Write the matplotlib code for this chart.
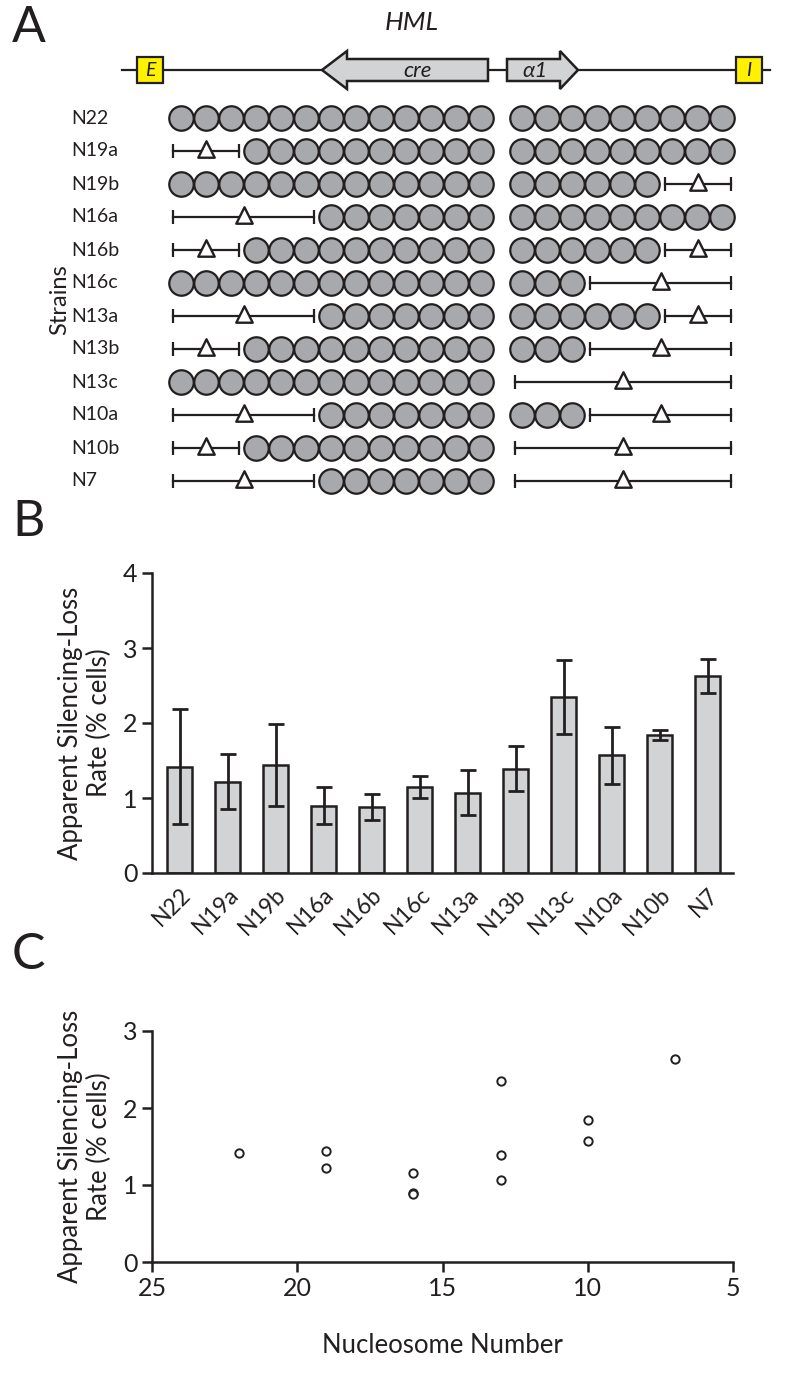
import numpy as np
import matplotlib
matplotlib.use("Agg")
import matplotlib.pyplot as plt
from matplotlib.patches import Polygon, Rectangle

plt.rcParams['font.family'] = ['Lato', 'DejaVu Sans']

# strains and their deletions (nucleosomes removed at the left end / right end)
strains = ["N22", "N19a", "N19b", "N16a", "N16b", "N16c",
           "N13a", "N13b", "N13c", "N10a", "N10b", "N7"]
del_left = [0, 3, 0, 6, 3, 0, 6, 3, 0, 6, 3, 6]
del_right = [0, 0, 3, 0, 3, 6, 3, 6, 9, 6, 9, 9]
n_left_group = 13
n_right_group = 9

# silencing-loss rates (% cells) and error bars
rate = [1.42, 1.22, 1.44, 0.90, 0.88, 1.15, 1.07, 1.39, 2.35, 1.57, 1.84, 2.63]
rate_err = [0.77, 0.37, 0.55, 0.25, 0.17, 0.15, 0.30, 0.30, 0.49, 0.38, 0.07, 0.23]
nuc_number = [22, 19, 19, 16, 16, 16, 13, 13, 13, 10, 10, 7]

DARK = "#231f20"
NUC = "#a7a9ac"
GENE = "#d1d3d4"
YEL = "#fff200"

W, H = 791, 1373
fig = plt.figure(figsize=(W / 100, H / 100), dpi=100)


def box(l, t, r, b):
    return [l / W, 1 - b / H, (r - l) / W, (b - t) / H]


# ---------------- panel A ----------------
ax = fig.add_axes([0, 1 - 500 / H, 1, 500 / H])
ax.set_xlim((0 - 181) / 25, (W - 181) / 25)
ax.set_ylim((500 - 118) / 33, (0 - 118) / 33)
ax.axis("off")

right0 = 13.64  # centre of first slot of the right group
track_y = (70 - 118) / 33
ax.plot([-2.36, 23.56], [track_y, track_y], color=DARK, lw=1.6, zorder=1)
hh = 13 / 33
for xc, lab in [(-1.24, "E"), (22.72, "I")]:
    ax.add_patch(Rectangle((xc - 0.52, track_y - hh), 1.04, 2 * hh,
                           facecolor=YEL, edgecolor=DARK, lw=1.6, zorder=2))
    ax.text(xc, track_y + 0.02, lab, ha="center", va="center", style="italic",
            fontsize=14, color=DARK, zorder=3)

bh, ah = 11 / 33, 19 / 33
# cre arrow (pointing left)
x_tip, x_base, x_end = (322 - 181) / 25, (347 - 181) / 25, (488 - 181) / 25
ax.add_patch(Polygon([(x_tip, track_y), (x_base, track_y - ah), (x_base, track_y - bh),
                      (x_end, track_y - bh), (x_end, track_y + bh), (x_base, track_y + bh),
                      (x_base, track_y + ah)], closed=True, facecolor=GENE,
                     edgecolor=DARK, lw=1.8, zorder=2))
ax.text((x_base + x_end) / 2, track_y + 0.02, "cre", ha="center", va="center",
        style="italic", fontsize=16, color=DARK, zorder=3)
# alpha1 arrow (pointing right)
x_start, x_base, x_tip = (507 - 181) / 25, (560 - 181) / 25, (578 - 181) / 25
ax.add_patch(Polygon([(x_start, track_y - bh), (x_base, track_y - bh), (x_base, track_y - ah),
                      (x_tip, track_y), (x_base, track_y + ah), (x_base, track_y + bh),
                      (x_start, track_y + bh)], closed=True, facecolor=GENE,
                     edgecolor=DARK, lw=1.8, zorder=2))
ax.text((x_start + x_base) / 2 + 0.05, track_y + 0.02, "α1", ha="center", va="center",
        style="italic", fontsize=16, color=DARK, zorder=3)
ax.text(9.24, (22 - 118) / 33, "HML", ha="center", va="center", style="italic",
        fontsize=19, color=DARK)

left_slots = np.arange(n_left_group)
right_slots = right0 + np.arange(n_right_group)
for k, name in enumerate(strains):
    ax.text(-4.4, k, name, ha="left", va="center", fontsize=14, color=DARK)
    nl, nr = del_left[k], del_right[k]
    xs = np.concatenate([left_slots[nl:], right_slots[:n_right_group - nr]])
    ax.scatter(xs, np.full(len(xs), k), s=310, facecolor=NUC, edgecolor=DARK,
               lw=1.6, zorder=3)
    segs = []
    if nl:
        segs.append((left_slots[0] - 0.3, left_slots[nl - 1] + 0.32))
    if nr:
        segs.append((right_slots[n_right_group - nr] - 0.28, right_slots[-1] + 0.38))
    for a, b in segs:
        ax.plot([a, b], [k, k], color=DARK, lw=1.6, zorder=2)
        ax.plot([a, b], [k, k], ls="none", marker="|", ms=10, mew=1.6, color=DARK)
        ax.scatter([(a + b) / 2], [k - 0.05], marker="^", s=140, facecolor="white",
                   edgecolor=DARK, lw=1.7, zorder=4)
ax.text(-4.85, 5.5, "Strains", rotation=90, ha="center", va="center",
        fontsize=17, color=DARK)

fig.text(12 / W, 1 - 28 / H, "A", fontsize=36, va="center", ha="left", color=DARK)
fig.text(12 / W, 1 - 522 / H, "B", fontsize=36, va="center", ha="left", color=DARK)
fig.text(12 / W, 1 - 955 / H, "C", fontsize=36, va="center", ha="left", color=DARK)


def style_axes(a):
    for s in ["top", "right"]:
        a.spines[s].set_visible(False)
    for s in ["left", "bottom"]:
        a.spines[s].set_linewidth(1.8)
        a.spines[s].set_color(DARK)
    a.tick_params(width=1.8, length=7, color=DARK, labelcolor=DARK, labelsize=18)


ylab = "Apparent Silencing-Loss\nRate (% cells)"

# ---------------- panel B ----------------
axb = fig.add_axes(box(152, 573, 733, 873))
x = np.arange(len(strains))
axb.bar(x, rate, width=0.52, color=GENE, edgecolor=DARK, lw=1.8, zorder=2)
axb.errorbar(x, rate, yerr=rate_err, fmt="none", ecolor=DARK, elinewidth=2,
             capsize=6, capthick=2, zorder=3)
axb.set_xlim(-0.573, 11.53)
axb.set_ylim(0, 4)
axb.set_yticks([0, 1, 2, 3, 4])
axb.set_xticks(x)
axb.set_xticklabels(strains, rotation=45, ha="right", rotation_mode="anchor")
style_axes(axb)
axb.tick_params(axis="x", length=0, labelsize=16.5, pad=8)
axb.set_ylabel(ylab, fontsize=18.5, color=DARK, labelpad=8, linespacing=1.2)

# ---------------- panel C ----------------
axc = fig.add_axes(box(152, 1031, 733, 1262))
axc.plot(nuc_number, rate, ls="none", marker="o", ms=6, mfc="white",
         mec=DARK, mew=1.4)
axc.set_xlim(25, 5)
axc.set_ylim(0, 3)
axc.set_xticks([25, 20, 15, 10, 5])
axc.set_yticks([0, 1, 2, 3])
style_axes(axc)
axc.set_ylabel(ylab, fontsize=18.5, color=DARK, labelpad=8, linespacing=1.2)
axc.set_xlabel("Nucleosome Number", fontsize=18.5, color=DARK, labelpad=24)

fig.savefig("out.png", dpi=100)
